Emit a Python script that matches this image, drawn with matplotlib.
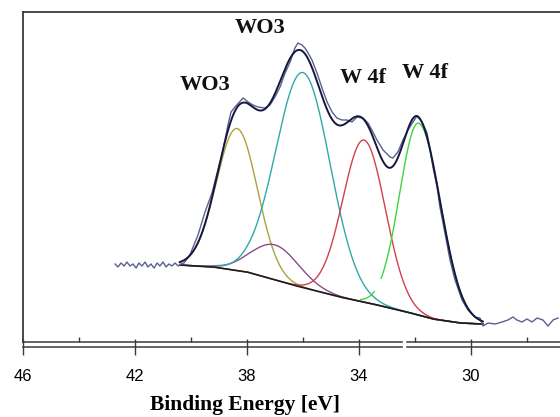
import numpy as np
import matplotlib.pyplot as plt

plt.rcParams["font.family"] = "sans-serif"
plt.rcParams["font.sans-serif"] = ["Liberation Sans", "DejaVu Sans"]

energy = [42.71, 42.61, 42.50, 42.39, 42.29, 42.18, 42.07, 41.96, 41.86, 41.75,
          41.64, 41.54, 41.43, 41.32, 41.21, 41.11, 41.00, 40.89, 40.79, 40.68,
          40.57, 40.46, 40.36, 40.25, 40.04, 39.75, 39.50, 39.25, 39.04, 38.86,
          38.68, 38.57, 38.43, 38.14, 37.96, 37.79, 37.61, 37.36, 37.18, 37.00,
          36.82, 36.64, 36.46, 36.29, 36.18, 36.04, 35.93, 35.82, 35.68, 35.50,
          35.32, 35.14, 34.96, 34.79, 34.61, 34.43, 34.25, 34.07, 33.86, 33.68,
          33.54, 33.36, 33.14, 32.89, 32.79, 32.61, 32.43, 32.25, 32.07, 31.93,
          31.75, 31.57, 31.46, 31.36, 31.21, 31.11, 30.93, 30.75, 30.57, 30.32,
          30.11, 29.86, 29.68, 29.57, 29.39, 29.14, 28.89, 28.68, 28.50, 28.36,
          28.18, 28.00, 27.82, 27.64, 27.43, 27.25, 27.07, 26.89]
counts = [78, 75, 79, 76, 80, 76, 78, 74, 79, 76,
          80, 75, 78, 74, 79, 76, 80, 75, 78, 76,
          79, 76, 78, 79, 87, 107, 130, 149, 172, 192,
          217, 230, 235, 244, 240, 237, 235, 234, 237, 245,
          255, 269, 280, 294, 299, 297, 294, 289, 282, 269,
          254, 240, 230, 224, 222, 222, 220, 225, 224, 219,
          212, 202, 192, 185, 184, 190, 202, 212, 220, 226,
          220, 209, 192, 175, 155, 135, 109, 82, 62, 42,
          32, 25, 24, 16, 19, 18, 20, 22, 25, 22,
          20, 23, 20, 24, 22, 16, 22, 24]

# Shirley-type background as drawn
bg_energy = [40.40, 39.21, 38.00, 36.36, 34.68, 33.50, 32.29, 31.36, 30.39, 29.58]
bg_counts = [77, 75, 70, 57, 45, 38, 30, 23, 19, 18]

# Fitted components: centre (eV), height above background, widths (eV)
peak_centre = [38.36, 37.00, 36.00, 33.82, 31.87]
peak_height = [142, 35, 215, 162, 192]
peak_sigma_hi = [0.73, 0.85, 0.97, 0.76, 0.68]  # high-BE side
peak_sigma_lo = [0.73, 0.85, 0.97, 0.76, 0.78]  # low-BE side
peak_colors = ["#a9a23e", "#8c4a8c", "#2fa9a9", "#d2404e", "#3ed63e"]

# peak labels (text, binding energy, intensity)
label_text = ["WO3", "WO3", "W 4f", "W 4f"]
label_x = [37.54, 39.50, 33.86, 31.64]
label_y = [314, 257, 264, 269]

fig = plt.figure(figsize=(5.6, 4.17), dpi=100)
ax = fig.add_axes([23 / 560, 75 / 417, 1 - 23 / 560, 330 / 417])

e = np.linspace(bg_energy[0], bg_energy[-1], 800)
bg = np.interp(e, bg_energy[::-1], bg_counts[::-1])

envelope = bg.copy()
for c, h, s_hi, s_lo, col in zip(peak_centre, peak_height, peak_sigma_hi,
                                  peak_sigma_lo, peak_colors):
    s = np.where(e > c, s_hi, s_lo)
    g = h * np.exp(-0.5 * ((e - c) / s) ** 2)
    envelope += g
    comp = bg + g
    if col == "#3ed63e":
        # the green fit curve is only partly drawn in the original
        keep = (e <= 33.22) | ((e >= 33.45) & (e <= 33.95))
        comp = np.where(keep, comp, np.nan)
    ax.plot(e, comp, color=col, lw=1.0, zorder=2)

ax.plot(e, bg, color="#1c1c1c", lw=1.2, zorder=3)
ax.plot(energy, counts, color="#5a608f", lw=1.0, zorder=4)
ax.plot(e, envelope, color="#16163e", lw=1.4, zorder=5)

for t, x, y in zip(label_text, label_x, label_y):
    ax.text(x, y, t, ha="center", va="center", fontsize=16,
            fontweight="bold", family="Liberation Serif", color="#111111")

ax.set_xlim(46, 46 - 537 / 28)
ax.set_ylim(0, 330)
ax.set_yticks([])

spine_col = "#3a3a3a"
for side in ["right", "bottom"]:
    ax.spines[side].set_visible(False)
for side in ["left", "top"]:
    ax.spines[side].set_color(spine_col)
    ax.spines[side].set_linewidth(1.3)

# two bottom rails with a small break, like the scanned figure
tr = ax.get_xaxis_transform()
for yy in [0, -5 / 330]:
    ax.plot([46, 32.45], [yy, yy], color=spine_col, lw=1.1, transform=tr,
            clip_on=False)
    ax.plot([32.27, 26.82], [yy, yy], color=spine_col, lw=1.1, transform=tr,
            clip_on=False)

ax.set_xticks([44, 40, 36, 32, 28])
ax.tick_params(axis="x", direction="in", length=3.6, width=1.0,
               color=spine_col, labelbottom=False)

sec = ax.secondary_xaxis(-5 / 330)
sec.spines["bottom"].set_visible(False)
sec.set_xticks([46, 42, 38, 34, 30])
sec.set_xticklabels(["46", "42", "38", "34", "30"])
sec.tick_params(axis="x", direction="inout", length=11.5, width=1.0,
                color=spine_col, labelsize=12, pad=10)

fig.text(244.5 / 560, 1 - 405 / 417, "Binding Energy [eV]", ha="center",
         va="center", fontsize=15.5, fontweight="bold", family="Liberation Serif")

fig.savefig("out.png", dpi=100)
